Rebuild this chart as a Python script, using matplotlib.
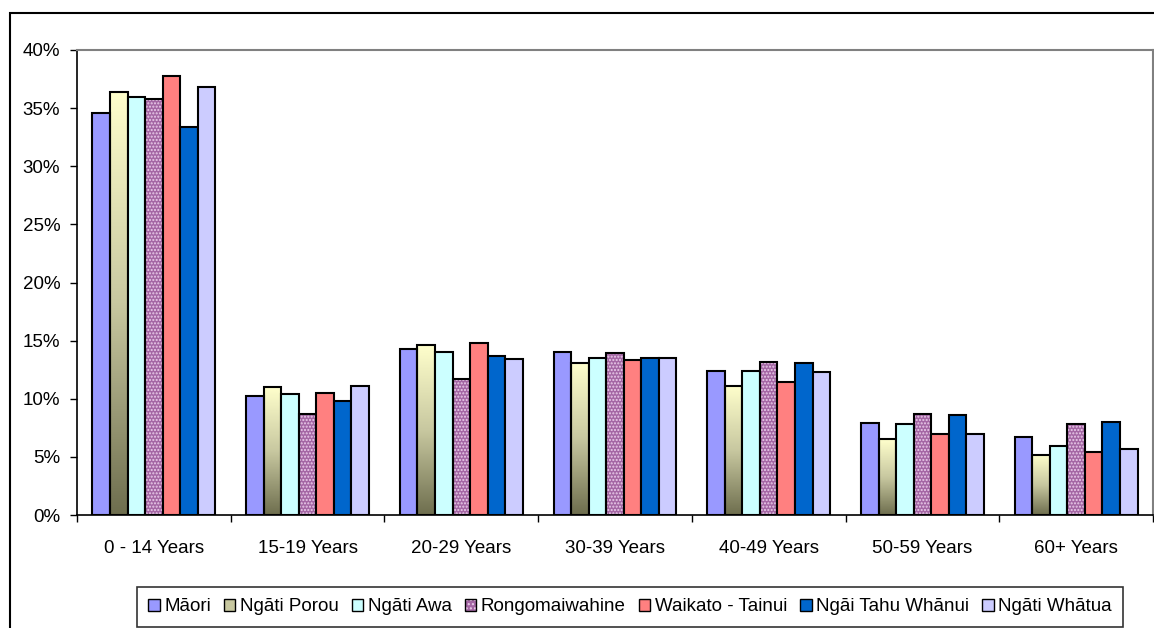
import numpy as np
import matplotlib.pyplot as plt
from matplotlib.patches import Rectangle
from matplotlib.colors import LinearSegmentedColormap
from matplotlib.ticker import PercentFormatter

plt.rcParams['font.family'] = ['Liberation Sans', 'DejaVu Sans']

categories = ['0 - 14 Years', '15-19 Years', '20-29 Years', '30-39 Years',
              '40-49 Years', '50-59 Years', '60+ Years']
series = ['Māori', 'Ngāti Porou', 'Ngāti Awa', 'Rongomaiwahine',
          'Waikato - Tainui', 'Ngāi Tahu Whānui', 'Ngāti Whātua']

maori = [34.6, 10.2, 14.3, 14.0, 12.4, 7.9, 6.7]
porou = [36.4, 11.0, 14.6, 13.1, 11.1, 6.5, 5.2]
awa = [36.0, 10.4, 14.0, 13.5, 12.4, 7.8, 5.9]
rongo = [35.8, 8.7, 11.7, 13.9, 13.2, 8.7, 7.8]
waikato = [37.8, 10.5, 14.8, 13.3, 11.4, 7.0, 5.4]
tahu = [33.4, 9.8, 13.7, 13.5, 13.1, 8.6, 8.0]
whatua = [36.8, 11.1, 13.4, 13.5, 12.3, 7.0, 5.7]

values = [maori, porou, awa, rongo, waikato, tahu, whatua]
colors = ['#9999FF', '#C8C8A0', '#CCFFFF', '#A466A4', '#FF8080', '#0066CC', '#CCCCFF']

fig = plt.figure(figsize=(11.54, 6.28), dpi=100)
ax = fig.add_axes([77 / 1154, 1 - 515 / 628, 1076 / 1154, 465 / 628])

x = np.arange(len(categories))
n = len(series)
w = 0.8 / n
grad = LinearSegmentedColormap.from_list('g', ['#6E6E4E', '#C8C8A0', '#FFFFCC'])

handles = []
for i, (name, vals, col) in enumerate(zip(series, values, colors)):
    pos = x - 0.4 + w * (i + 0.5)
    if name == 'Rongomaiwahine':
        ax.bar(pos, vals, w, color=col, edgecolor='#EBCDEB', hatch='.....',
               linewidth=0, zorder=2)
        ax.bar(pos, vals, w, fill=False, edgecolor='black', linewidth=1.5, zorder=3)
        h = Rectangle((0, 0), 1, 1, facecolor=col, edgecolor='#EBCDEB', hatch='....',
                      linewidth=0)
        h = (h, Rectangle((0, 0), 1, 1, fill=False, edgecolor='black', linewidth=1))
    elif name == 'Ngāti Porou':
        bars = ax.bar(pos, vals, w, color='none', edgecolor='black', linewidth=1.5, zorder=3)
        img = np.linspace(0, 1, 256).reshape(-1, 1)
        for b in bars:
            im = ax.imshow(img, cmap=grad, origin='lower', aspect='auto', zorder=2,
                           extent=[b.get_x(), b.get_x() + b.get_width(), 0, b.get_height()])
            im.set_clip_path(b)
        h = Rectangle((0, 0), 1, 1, facecolor=col, edgecolor='black', linewidth=1)
    else:
        ax.bar(pos, vals, w, color=col, edgecolor='black', linewidth=1.5, zorder=3)
        h = Rectangle((0, 0), 1, 1, facecolor=col, edgecolor='black', linewidth=1)
    handles.append(h)

ax.set_xlim(-0.5, len(categories) - 0.5)
ax.set_ylim(0, 40)
ax.set_yticks(np.arange(0, 41, 5))
ax.yaxis.set_major_formatter(PercentFormatter(decimals=0))
ax.set_xticks(x)
ax.set_xticklabels(categories)
ax.set_xticks(np.arange(len(categories) + 1) - 0.5, minor=True)
ax.tick_params(axis='x', which='major', length=0, pad=18, labelsize=13.5)
ax.tick_params(axis='x', which='minor', length=5, width=1)
ax.tick_params(axis='y', length=5, width=1, pad=7, labelsize=13.5)

for s in ['top', 'right']:
    ax.spines[s].set_color('#808080')
    ax.spines[s].set_linewidth(1.5)
for s in ['left', 'bottom']:
    ax.spines[s].set_color('black')
    ax.spines[s].set_linewidth(1.2)

# outer chart border
fig.add_artist(Rectangle((10 / 1154, -0.1), 1.2, 1 - 13 / 628 + 0.1,
                         transform=fig.transFigure, fill=False,
                         edgecolor='black', linewidth=1.5))

leg = fig.legend(handles, series, loc='upper left', ncol=7,
                 bbox_to_anchor=(137 / 1154, 1 - 587 / 628),
                 fontsize=13.5, frameon=True, fancybox=False, edgecolor='black',
                 handlelength=0.6, handleheight=0.6, handletextpad=0.25,
                 columnspacing=0.7, borderpad=0.6, borderaxespad=0)
leg.get_frame().set_linewidth(1.2)

fig.savefig('out.png', dpi=100)
